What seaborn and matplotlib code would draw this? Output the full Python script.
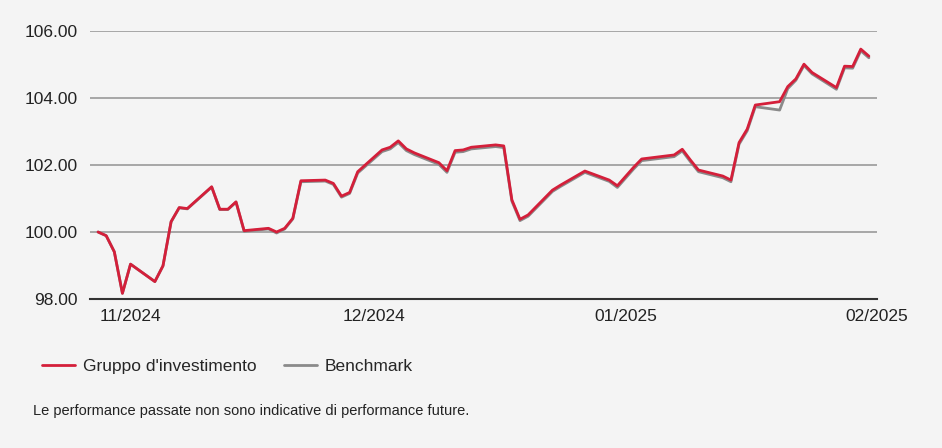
import pandas as pd
import seaborn as sns
import matplotlib.pyplot as plt
import matplotlib.dates as mdates
from matplotlib.lines import Line2D

# data
dates = [
    "2024-10-28", "2024-10-29", "2024-10-30", "2024-10-31", "2024-11-01",
    "2024-11-04", "2024-11-05", "2024-11-06", "2024-11-07", "2024-11-08",
    "2024-11-11", "2024-11-12", "2024-11-13", "2024-11-14", "2024-11-15",
    "2024-11-18", "2024-11-19", "2024-11-20", "2024-11-21", "2024-11-22",
    "2024-11-25", "2024-11-26", "2024-11-27", "2024-11-28", "2024-11-29",
    "2024-12-02", "2024-12-03", "2024-12-04", "2024-12-05", "2024-12-06",
    "2024-12-09", "2024-12-10", "2024-12-11", "2024-12-12", "2024-12-13",
    "2024-12-16", "2024-12-17", "2024-12-18", "2024-12-19", "2024-12-20",
    "2024-12-23", "2024-12-24", "2024-12-27", "2024-12-30", "2024-12-31",
    "2025-01-02", "2025-01-03", "2025-01-06", "2025-01-07", "2025-01-08",
    "2025-01-09", "2025-01-10", "2025-01-13", "2025-01-14", "2025-01-15",
    "2025-01-16", "2025-01-17", "2025-01-20", "2025-01-21", "2025-01-22",
    "2025-01-23", "2025-01-24", "2025-01-27", "2025-01-28", "2025-01-29",
    "2025-01-30", "2025-01-31",
]

fund = [
    100.00, 99.89, 99.41, 98.17, 99.04,
    98.52, 98.99, 100.31, 100.73, 100.70,
    101.35, 100.68, 100.68, 100.90, 100.04,
    100.11, 100.00, 100.11, 100.41, 101.53,
    101.55, 101.45, 101.07, 101.18, 101.80,
    102.45, 102.53, 102.72, 102.48, 102.36,
    102.07, 101.83, 102.43, 102.45, 102.53,
    102.60, 102.57, 100.96, 100.38, 100.51,
    101.25, 101.40, 101.82, 101.55, 101.38,
    101.93, 102.18, 102.27, 102.30, 102.47,
    102.15, 101.85, 101.67, 101.55, 102.67,
    103.07, 103.79, 103.89, 104.34, 104.57,
    105.01, 104.76, 104.31, 104.95, 104.94,
    105.46, 105.25,
]

benchmark = [
    100.00, 99.89, 99.41, 98.17, 99.04,
    98.52, 98.99, 100.30, 100.72, 100.69,
    101.34, 100.67, 100.67, 100.89, 100.02,
    100.09, 99.97, 100.09, 100.39, 101.50,
    101.52, 101.42, 101.04, 101.15, 101.76,
    102.40, 102.48, 102.67, 102.43, 102.31,
    102.02, 101.78, 102.38, 102.40, 102.48,
    102.55, 102.52, 100.92, 100.34, 100.47,
    101.21, 101.36, 101.78, 101.51, 101.33,
    101.88, 102.13, 102.22, 102.25, 102.42,
    102.10, 101.80, 101.62, 101.50, 102.62,
    103.02, 103.74, 103.64, 104.28, 104.53,
    104.97, 104.72, 104.26, 104.90, 104.89,
    105.41, 105.20,
]

series_names = ["Gruppo d'investimento", "Benchmark"]
colors = ["#d41f3a", "#8a8a8a"]
footnote = "Le performance passate non sono indicative di performance future."

bg = "#f4f4f4"
sns.set_style("white")
plt.rcParams["font.family"] = ["Liberation Sans", "DejaVu Sans"]

df = pd.DataFrame({"date": pd.to_datetime(dates), "fund": fund, "bench": benchmark})

fig = plt.figure(figsize=(9.42, 4.48), dpi=100, facecolor=bg)
ax = fig.add_axes([0.0955, 0.3326, 0.8355, 0.5982])
ax.set_facecolor(bg)

# benchmark first so the fund line sits on top
sns.lineplot(data=df, x="date", y="bench", ax=ax, color=colors[1], linewidth=2.0, zorder=3)
sns.lineplot(data=df, x="date", y="fund", ax=ax, color=colors[0], linewidth=2.0, zorder=4)

ax.set_xlim(pd.Timestamp("2024-10-27"), pd.Timestamp("2025-02-01"))
ax.set_ylim(98, 106)
ax.set_yticks([98, 100, 102, 104, 106])
ax.yaxis.set_major_formatter(plt.FuncFormatter(lambda v, _: f"{v:.2f}"))
ax.xaxis.set_major_locator(mdates.MonthLocator())
ax.xaxis.set_major_formatter(mdates.DateFormatter("%m/%Y"))
ax.set_xlabel("")
ax.set_ylabel("")

ax.grid(axis="y", color="#a0a0a0", linewidth=1.3)
ax.grid(axis="x", visible=False)
for side in ["left", "right", "top"]:
    ax.spines[side].set_visible(False)
ax.spines["bottom"].set_color("#333333")
ax.spines["bottom"].set_linewidth(1.5)
ax.spines["bottom"].set_zorder(5)

ax.tick_params(axis="y", length=0, pad=9, labelsize=12.5, labelcolor="#222222")
ax.tick_params(axis="x", length=5, width=1, color="#333333", pad=2,
               labelsize=12.5, labelcolor="#222222")

handles = [Line2D([], [], color=c, linewidth=2.0) for c in colors]
fig.legend(handles, series_names, loc="center left", bbox_to_anchor=(0.045, 0.181),
           ncol=2, frameon=False, fontsize=12.5, handlelength=1.9,
           handletextpad=0.45, columnspacing=1.55, borderpad=0, borderaxespad=0)

fig.text(0.035, 0.083, footnote, fontsize=10.5, color="#222222", va="center", ha="left")

fig.savefig("out.png", dpi=100, facecolor=bg)
